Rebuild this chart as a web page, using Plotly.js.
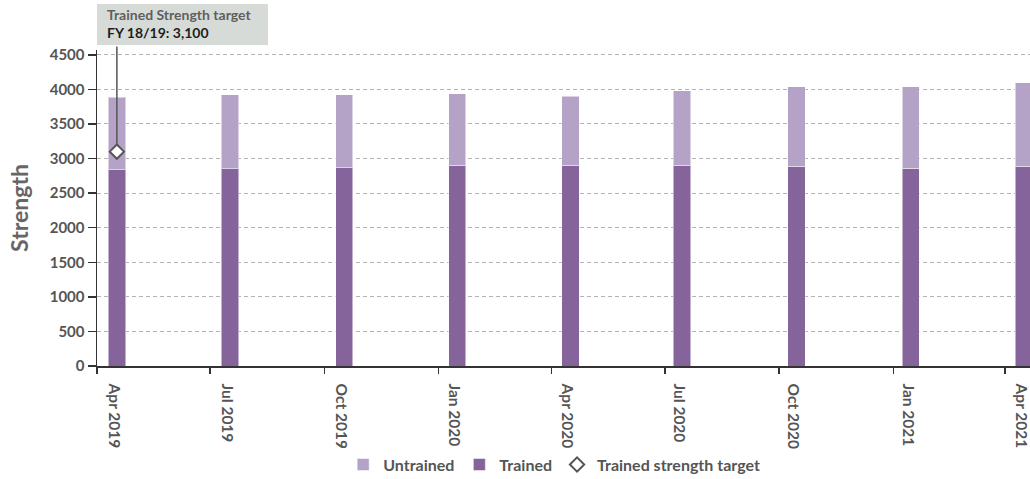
<!DOCTYPE html>
<html>
<head>
<meta charset="utf-8">
<script src="https://cdn.plot.ly/plotly-3.0.1.min.js"></script>
<style>
  html, body { margin: 0; padding: 0; background: #ffffff; }
  #chart { width: 1030px; height: 479px; }
</style>
</head>
<body>
<div id="chart"></div>
<script>
// Quarterly strength, split into trained and untrained personnel
const periodLabels = ['Apr 2019', 'Jul 2019', 'Oct 2019', 'Jan 2020', 'Apr 2020',
                      'Jul 2020', 'Oct 2020', 'Jan 2021', 'Apr 2021'];
const periodDates = ['2019-04-17', '2019-07-17', '2019-10-17', '2020-01-16', '2020-04-16',
                     '2020-07-15', '2020-10-15', '2021-01-15', '2021-04-16'];
const quarterStarts = ['2019-04-01', '2019-07-01', '2019-10-01', '2020-01-01', '2020-04-01',
                       '2020-07-01', '2020-10-01', '2021-01-01', '2021-04-01'];
const trained = [2840, 2850, 2870, 2900, 2900, 2900, 2890, 2860, 2890];
const untrained = [1050, 1070, 1050, 1040, 1000, 1080, 1150, 1180, 1210];

// Trained strength target for FY 18/19
const targetTitle = 'Trained Strength target';
const targetLabel = 'FY 18/19: 3,100';
const targetDate = periodDates[0];
const targetValue = 3100;

const yMax = 4570;
const barWidthMs = 14 * 24 * 3600 * 1000;
const textColor = '#555555';
const fontFamily = 'Lato, Roboto, "DejaVu Sans", sans-serif';

const traces = [
  {
    type: 'bar',
    name: 'Trained',
    x: periodDates,
    y: trained,
    width: barWidthMs,
    marker: { color: '#84649b', line: { color: 'rgba(255,255,255,0.5)', width: 1 } },
    legendrank: 2,
    hoverinfo: 'x+y+name'
  },
  {
    type: 'bar',
    name: 'Untrained',
    x: periodDates,
    y: untrained,
    width: barWidthMs,
    marker: { color: '#b5a3c7', line: { color: 'rgba(255,255,255,0.5)', width: 1 } },
    legendrank: 1,
    hoverinfo: 'x+y+name'
  },
  {
    type: 'scatter',
    mode: 'markers',
    name: 'Trained strength target',
    x: [targetDate],
    y: [targetValue],
    cliponaxis: false,
    marker: { symbol: 'diamond', size: 11, color: '#ffffff', line: { color: '#555555', width: 2 } },
    legendrank: 3
  }
];

const layout = {
  width: 1030,
  height: 479,
  margin: { l: 97, r: 0, t: 50, b: 113, autoexpand: false },
  paper_bgcolor: '#ffffff',
  plot_bgcolor: '#ffffff',
  barmode: 'stack',
  font: { family: fontFamily, color: textColor, size: 14, weight: 'bold' },
  showlegend: true,
  legend: {
    orientation: 'h',
    x: 0.49,
    xanchor: 'center',
    y: -0.312,
    yanchor: 'middle',
    font: { size: 16, color: textColor, weight: 'bold' },
    itemwidth: 30,
    tracegroupgap: 0,
    traceorder: 'normal'
  },
  xaxis: {
    type: 'date',
    range: ['2019-04-01', '2021-04-21'],
    tickmode: 'array',
    tickvals: periodDates,
    ticktext: periodLabels,
    tickangle: 90,
    ticks: '',
    ticklen: 0,
    ticklabelstandoff: 13,
    ticklabelshift: -3,
    ticklabeloverflow: 'allow',
    tickfont: { size: 15.5, color: textColor, weight: 'bold' },
    showgrid: false,
    showline: true,
    linecolor: '#333333',
    linewidth: 1.5,
    zeroline: false,
    minor: {
      tickmode: 'array',
      tickvals: quarterStarts,
      ticks: 'outside',
      ticklen: 6,
      tickwidth: 1.5,
      tickcolor: '#333333',
      showgrid: false
    }
  },
  yaxis: {
    range: [0, yMax],
    tickmode: 'linear',
    tick0: 0,
    dtick: 500,
    ticks: 'outside',
    ticklen: 8,
    tickwidth: 1.5,
    tickcolor: '#333333',
    tickfont: { size: 15, color: textColor, weight: 'bold' },
    showline: true,
    linecolor: '#333333',
    linewidth: 1.5,
    zeroline: false,
    showgrid: true,
    gridcolor: '#b3b3b3',
    gridwidth: 1,
    griddash: '4px,3px',
    title: { text: 'Strength', font: { size: 23, color: '#666666', weight: 'bold' }, standoff: 14 }
  },
  shapes: [
    {
      // label box for the target
      type: 'rect',
      xref: 'paper', yref: 'paper',
      x0: 0, x1: 0.1833,
      y0: 1.0158, y1: 1.1456,
      fillcolor: '#d7dbd8',
      line: { width: 0 },
      layer: 'above'
    }
  ],
  annotations: [
    {
      // connector from the target marker up to its label box
      xref: 'x', yref: 'y',
      x: targetDate, y: targetValue,
      axref: 'pixel', ayref: 'y',
      ax: 0, ay: 4642,
      text: '',
      showarrow: true,
      arrowhead: 0,
      arrowwidth: 1.5,
      arrowcolor: '#555555',
      standoff: 7
    },
    {
      xref: 'paper', yref: 'paper',
      x: 0.0096, y: 1.141,
      xanchor: 'left', yanchor: 'top',
      text: '<span style="color:#5f5f5f">' + targetTitle + '</span><br><span style="color:#1e1e1e">' + targetLabel + '</span>',
      showarrow: false,
      align: 'left',
      borderpad: 0,
      font: { size: 14, weight: 'bold', family: fontFamily }
    }
  ]
};

Plotly.newPlot('chart', traces, layout, { displayModeBar: false, staticPlot: true });
</script>
</body>
</html>
